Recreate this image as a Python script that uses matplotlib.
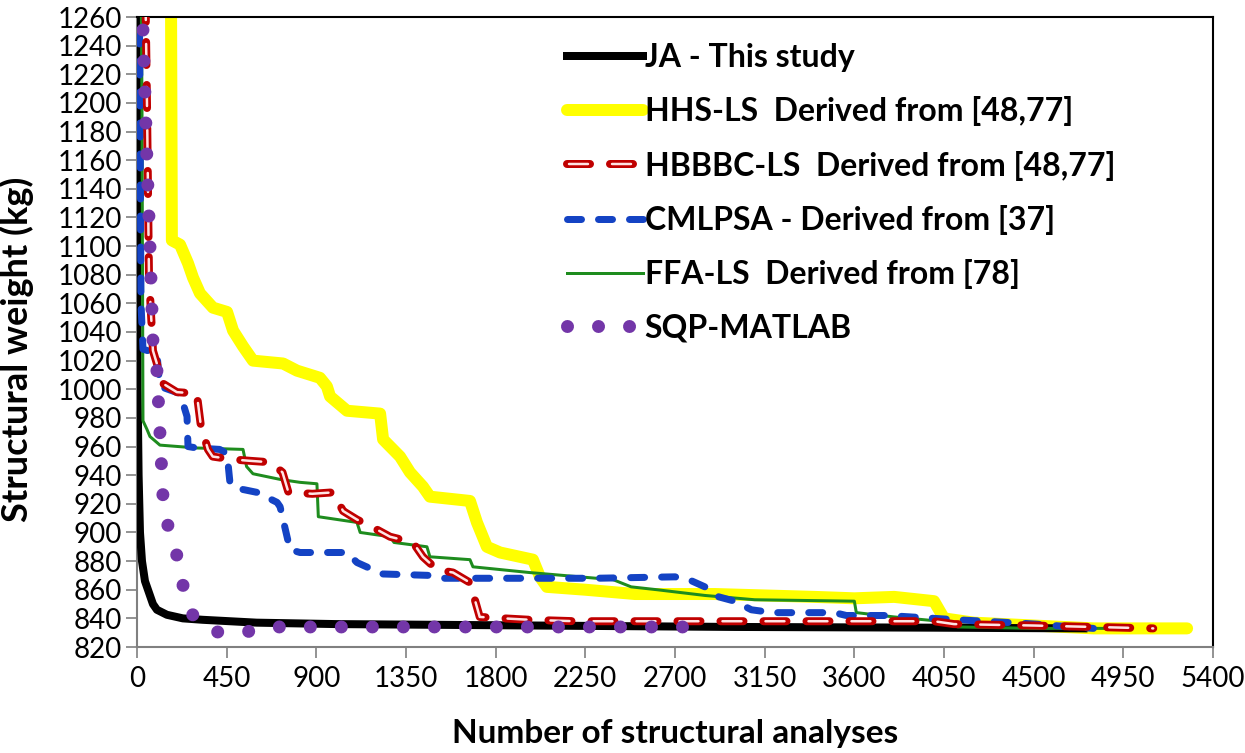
import matplotlib
matplotlib.use("Agg")
import matplotlib.pyplot as plt
from matplotlib.lines import Line2D

plt.rcParams["font.family"] = ["Lato", "DejaVu Sans"]
plt.rcParams["lines.scale_dashes"] = False

# ── Data ───────────────────────────────────────────────────────
ja_x = [0, 3, 8, 15, 25, 40, 60, 80, 100, 150, 230, 330, 600, 1000, 1500, 2000, 3000, 4000, 4750]
ja_y = [1300, 1000, 940, 900, 880, 866, 858, 850, 846, 842.5, 840, 839, 837, 836, 835.5, 835, 834, 833.5, 833]

hhs_x = [170, 175, 216, 256, 281, 316, 381, 452, 482, 532, 582, 733, 803, 918, 953, 969, 1054,
         1220, 1235, 1320, 1370, 1435, 1470, 1671, 1706, 1756, 1822, 1987, 2022, 2057, 2250,
         2500, 2900, 3150, 3400, 3600, 3800, 4000, 4050, 4200, 4500, 4800, 5270]
hhs_y = [1300, 1104, 1101, 1088, 1078, 1067, 1057, 1054, 1041, 1030, 1020, 1018, 1013, 1008,
         1002, 995, 985, 983, 965, 953, 942, 932, 925, 922, 907, 890, 886, 881, 869, 862, 860,
         857, 857, 856, 855, 854, 855, 852, 840, 837, 835, 833, 833]

hbbbc_x = [40, 50, 60, 80, 130, 200, 300, 320, 356, 380, 480, 570, 670, 730, 760, 880, 984,
           1034, 1104, 1204, 1270, 1385, 1435, 1506, 1586, 1671, 1720, 1840, 1970, 2200, 2700,
           3500, 4000, 4100, 4500, 5100]
hbbbc_y = [1300, 1200, 1080, 1027, 1004, 998, 997, 975, 958, 953, 951, 950, 949, 942, 928, 927,
           928, 915, 909, 902, 897, 893, 883, 874, 872, 865, 841, 840, 839, 838, 838, 838, 838,
           836, 835, 833]

cmlpsa_x = [10, 15, 20, 30, 100, 115, 216, 251, 256, 300, 415, 452, 467, 532, 602, 703, 718,
            768, 818, 1054, 1104, 1184, 1235, 1470, 1536, 2300, 2700, 2770, 2850, 2920, 3000,
            3083, 3190, 3500, 3560, 3765, 4117, 4386, 4510, 4600, 4800]
cmlpsa_y = [1300, 1200, 1060, 1028, 1025, 1002, 997, 981, 960, 959, 958, 955, 934, 930, 928,
            921, 918, 888, 886, 886, 879, 874, 871, 870, 868, 868, 869, 867, 862, 855, 852, 846,
            844, 844, 842, 842, 839, 837, 836, 835, 833]

ffa_x = [20, 25, 30, 50, 65, 115, 300, 532, 550, 582, 720, 818, 903, 910, 1104, 1120, 1270,
         1290, 1455, 1470, 1671, 1686, 1970, 2390, 2480, 2610, 2850, 3100, 3600, 3610, 3800,
         4030, 4120, 4500, 4880]
ffa_y = [1300, 1200, 978, 972, 967, 961, 959, 958, 946, 941, 937, 935, 934, 911, 907, 900, 897,
         893, 890, 883, 881, 876, 872, 867, 862, 860, 856, 853, 852, 844, 841, 838, 834, 833, 833]

sqp_x = [28, 30, 50, 65, 80, 100, 115, 130, 155, 200, 231, 281, 330, 391, 542, 693, 1000, 2000, 2745]
sqp_y = [1280, 1251, 1160, 1100, 1034, 1013, 970, 926, 905, 884, 863, 842, 836, 830.5, 830.5,
         834, 834, 834, 834]

labels = ["JA - This study", "HHS-LS  Derived from [48,77]", "HBBBC-LS  Derived from [48,77]",
          "CMLPSA - Derived from [37]", "FFA-LS  Derived from [78]", "SQP-MATLAB"]

x_ticks = list(range(0, 5401, 450))
y_ticks = list(range(820, 1261, 20))

PX = 0.72  # points per pixel at dpi 100

# dash patterns (in points)
ls_cml = (0, (14 * PX, 17 * PX))
ls_hb_out = (0, (23 * PX, 20 * PX))
ls_hb_in = (41 * PX, (19 * PX, 24 * PX))
ls_sqp = (0, (0.01, 31 * PX))

fig = plt.figure(figsize=(12.45, 7.53), dpi=100)
ax = fig.add_axes([137 / 1245, 1 - 647 / 753, (1213 - 137) / 1245, (647 - 17) / 753])

# ── Series ─────────────────────────────────────────────────────
l_hhs, = ax.plot(hhs_x, hhs_y, color="#ffff00", lw=12 * PX, solid_joinstyle="round",
                 solid_capstyle="round", zorder=2)
l_ja, = ax.plot(ja_x, ja_y, color="black", lw=8 * PX, solid_joinstyle="round", zorder=3)
l_ffa, = ax.plot(ffa_x, ffa_y, color="#1e8c1e", lw=3 * PX, zorder=4)
l_cml, = ax.plot(cmlpsa_x, cmlpsa_y, color="#1443c4", lw=7 * PX, linestyle=ls_cml,
                 dash_capstyle="round", dash_joinstyle="round", zorder=5)
l_hb1, = ax.plot(hbbbc_x, hbbbc_y, color="#c00000", lw=8 * PX, linestyle=ls_hb_out,
                 dash_capstyle="round", dash_joinstyle="round", zorder=6)
l_hb2, = ax.plot(hbbbc_x, hbbbc_y, color="#ffe4e4", lw=2.5 * PX, linestyle=ls_hb_in,
                 dash_capstyle="round", dash_joinstyle="round", zorder=6.1)
l_sqp, = ax.plot(sqp_x, sqp_y, color="#7336a8", lw=13 * PX, linestyle=ls_sqp,
                 dash_capstyle="round", zorder=7)

# ── Axes ───────────────────────────────────────────────────────
ax.set_xlim(0, 5400)
ax.set_ylim(820, 1260)
ax.set_xticks(x_ticks)
ax.set_yticks(y_ticks)
ax.tick_params(axis="both", labelsize=20, colors="black", length=8, width=1.2)
ax.tick_params(axis="x", pad=6, color="#808080")
ax.tick_params(axis="y", pad=3, color="#808080")
for side in ["left", "bottom"]:
    ax.spines[side].set_color("#808080")
    ax.spines[side].set_linewidth(1.5)
for side in ["top", "right"]:
    ax.spines[side].set_color("black")
    ax.spines[side].set_linewidth(1.5)

ax.set_xlabel("Number of structural analyses", fontsize=24, fontweight="bold", labelpad=19)
ax.set_ylabel("Structural weight (kg)", fontsize=26, fontweight="bold")
ax.yaxis.set_label_coords(-0.096, 0.473)

# ── Legend ─────────────────────────────────────────────────────
h_hb = (Line2D([], [], color="#c00000", lw=8 * PX, linestyle=ls_hb_out, dash_capstyle="round"),
        Line2D([], [], color="#ffe4e4", lw=2.5 * PX, linestyle=ls_hb_in, dash_capstyle="round"))
handles = [l_ja, l_hhs, h_hb, l_cml, l_ffa, l_sqp]
leg = fig.legend(handles, labels, loc="upper left", bbox_to_anchor=(567 / 1245, 1 - 43 / 753),
                 frameon=False, prop={"size": 23, "weight": "bold"}, handlelength=2.38,
                 handletextpad=0.05, labelspacing=0.76, borderpad=0, borderaxespad=0)

fig.savefig("out.png", dpi=100)
